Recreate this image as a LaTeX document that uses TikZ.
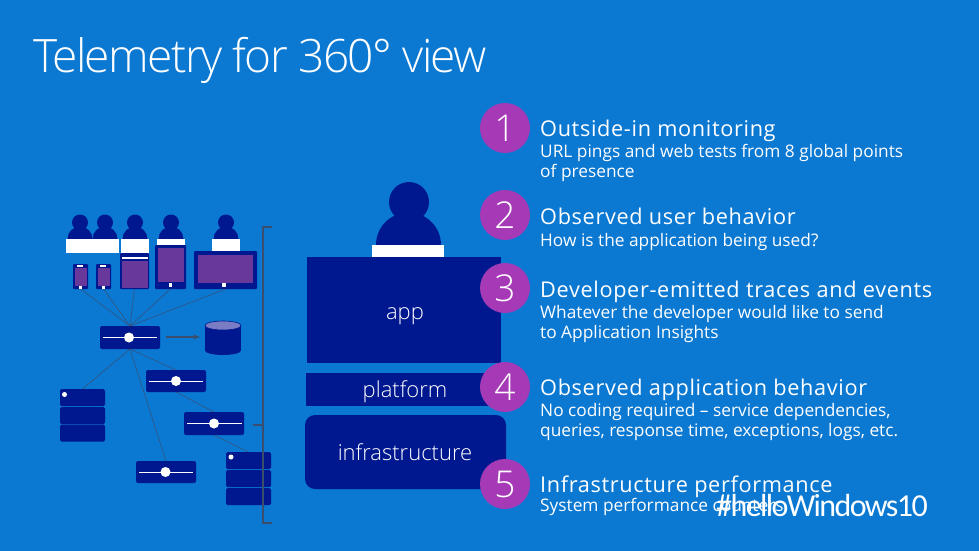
\documentclass[tikz,border=0pt]{standalone}
\usepackage{fontspec}
\setmainfont{Open Sans}
\newfontfamily\headfont[LetterSpace=3]{Open Sans}
\newfontfamily\lightfont{Open Sans Light}
\newfontfamily\titlefont[LetterSpace=-3.5]{Open Sans Light}
\newfontfamily\tagfont[LetterSpace=-5]{Carlito}
\usetikzlibrary{arrows.meta,shapes.geometric}
\definecolor{slidebg}{HTML}{0B78D2}
\definecolor{navy}{HTML}{00188F}
\definecolor{plum}{HTML}{68389A}
\definecolor{orchid}{HTML}{A63AB6}
\definecolor{wire}{HTML}{3A4F70}
\definecolor{lid}{HTML}{7A7CC4}
\tikzset{
  block/.style={fill=navy, inner sep=0pt, outer sep=0pt},
  blocktext/.style={anchor=base, inner sep=0pt, text=white, font=\lightfont\fontsize{22}{26}\selectfont},
  badge/.style={circle, fill=orchid, minimum size=50pt, inner sep=0pt, text=white, font=\lightfont\fontsize{37}{40}\selectfont},
  heading/.style={anchor=base west, inner sep=0pt, text=white, font=\headfont\fontsize{21.7}{24}\selectfont},
  detail/.style={anchor=base west, inner sep=0pt, align=left, text=white, font=\fontsize{17.3}{19.6}\selectfont},
  gateway/.style={fill=navy, rounded corners=2pt, minimum width=60pt, minimum height=23pt, inner sep=0pt, outer sep=0pt},
  slider/.style={circle, fill=white, minimum size=10pt, inner sep=0pt},
  rack/.style={fill=navy, rounded corners=1.5pt, minimum width=45pt, minimum height=17pt, inner sep=0pt, outer sep=0pt},
  purple/.style={fill=plum, inner sep=0pt, outer sep=0pt},
  shell/.style={fill=navy, rounded corners=1pt, inner sep=0pt, outer sep=0pt},
  paper/.style={fill=white, inner sep=0pt, outer sep=0pt},
  link/.style={draw=wire, line width=0.5pt},
  flow/.style={-{Stealth[length=7pt]}, draw=wire, line width=1.6pt},
  frame/.style={draw=wire, line width=1.6pt},
  pics/person/.style={code={
    \fill[navy] (0,-16.5) circle (8);
    \fill[navy] (-12.5,0) arc[start angle=180, end angle=360, radius=12.5] -- cycle;
  }}
}
\begin{document}
\begin{tikzpicture}[x=1pt,y=-1pt]
  \useasboundingbox[fill=slidebg] (0,0) rectangle (979,551);
  \node[anchor=base west, inner sep=0pt, text=white, font=\titlefont\fontsize{46}{50}\selectfont] (title) at (33,73) {Telemetry for 360° view};

  % viewers
  \pic at (80,239) {person};
  \pic at (105,239) {person};
  \pic at (135,239) {person};
  \pic at (171,239) {person};
  \pic at (226,239) {person};
  \node[paper, minimum width=53pt, minimum height=14pt] (bar1) at (92.5,246) {};
  \node[paper, minimum width=28pt, minimum height=14pt] (bar2) at (135,246) {};
  \node[paper, minimum width=28pt, minimum height=6pt] (bar3) at (171,242) {};
  \node[paper, minimum width=28pt, minimum height=12pt] (bar4) at (226,245) {};

  % devices
  \node[shell, minimum width=15pt, minimum height=25pt] (phonea) at (80.5,276.5) {};
  \node[purple, minimum width=12pt, minimum height=18pt] at (80.5,276.5) {};
  \node[paper, minimum width=6pt, minimum height=1.5pt] at (80,266) {};
  \node[paper, minimum width=2.5pt, minimum height=3pt] at (80.5,287) {};
  \node[shell, minimum width=15pt, minimum height=25pt] (phoneb) at (103.5,276.5) {};
  \node[purple, minimum width=12pt, minimum height=18pt] at (103.5,276.5) {};
  \node[paper, minimum width=6pt, minimum height=1.5pt] at (103,266) {};
  \node[paper, minimum width=2.5pt, minimum height=3pt] at (103.5,287) {};
  \node[shell, minimum width=29pt, minimum height=36pt] (phablet) at (134.5,271) {};
  \node[purple, minimum width=26pt, minimum height=27pt] at (134.5,274.5) {};
  \node[paper, minimum width=26pt, minimum height=2pt] at (134.5,258) {};
  \node[shell, minimum width=31pt, minimum height=44pt] (tablet) at (170.5,267) {};
  \node[purple, minimum width=26pt, minimum height=34pt] at (170.5,265) {};
  \node[paper, minimum width=3pt, minimum height=3.5pt] at (170.5,285) {};
  \node[shell, minimum width=63pt, minimum height=38pt] (screen) at (225.5,270) {};
  \node[purple, minimum width=55pt, minimum height=28pt] at (225.5,269) {};
  \node[paper, minimum width=4pt, minimum height=4pt] at (224,285) {};

  % servers
  \node[gateway] (front) at (130,337.5) {};
  \draw[white, line width=0.8pt] (103,337.5) -- (157,337.5);
  \node[slider] at (129,337.5) {};
  \node[gateway, minimum height=22pt] (web) at (176,381) {};
  \draw[white, line width=0.8pt] (149,381) -- (203,381);
  \node[slider] at (176,381) {};
  \node[gateway] (worker) at (214,423.5) {};
  \draw[white, line width=0.8pt] (187,423.5) -- (242,423.5);
  \node[slider] at (214,423.5) {};
  \node[gateway, minimum height=22pt] (batch) at (166,472) {};
  \draw[white, line width=0.8pt] (139,472) -- (193,472);
  \node[slider] at (165.5,472) {};

  \node[rack] (racka) at (82.5,397.5) {};
  \node[rack] (rackb) at (82.5,415.5) {};
  \node[rack] (rackc) at (82.5,433) {};
  \node[paper, circle, minimum size=5pt] at (64.5,394.5) {};
  \node[rack] (rackd) at (248.5,460.5) {};
  \node[rack] (racke) at (248.5,478.5) {};
  \node[rack] (rackf) at (248.5,496.5) {};
  \node[paper, circle, minimum size=5pt] at (231,457) {};

  \node[ellipse, fill=navy, minimum width=36pt, minimum height=9pt, inner sep=0pt] (storebase) at (223,350.5) {};
  \node[block, minimum width=36pt, minimum height=25pt] (store) at (223,338) {};
  \node[ellipse, fill=lid, draw=navy, line width=0.6pt, minimum width=36pt, minimum height=9pt, inner sep=0pt] (storelid) at (223,325.5) {};

  \draw[link] (phonea.south) -- (front.north);
  \draw[link] (phoneb.south) -- (front.north);
  \draw[link] (phablet.south) -- (front.north);
  \draw[link] (tablet.south) -- (front.north);
  \draw[link] (screen.south) -- (front.north);
  \draw[link] (front.south) -- (racka.north);
  \draw[link] (front.south) -- (batch.north);
  \draw[link] (front.south) -- (web.north);
  \draw[link] (web.south) -- (worker.north);
  \draw[link] (worker.south) -- (rackd.north);
  \draw[flow, shorten <=6pt, shorten >=5pt] (front.east |- 0,337) -- (store.west |- 0,337);

  % bracket
  \coordinate (top) at (272,227);
  \coordinate (bottom) at (272,523);
  \coordinate (stub) at (253,425);
  \coordinate (joint) at (262.7,425);
  \draw[frame] (top) -- (262.7,227) -- (262.7,523) -- (bottom);
  \draw[frame] (stub) -- (joint);

  % stack
  \fill[navy] (409,202) circle (20);
  \fill[navy] (376,245) arc[start angle=180, end angle=360, radius=32.5] -- cycle;
  \node[paper, minimum width=72pt, minimum height=12pt] (desk) at (408,251) {};
  \node[block, minimum width=194pt, minimum height=106pt] (app) at (404,310) {};
  \node[block, minimum width=194pt, minimum height=33pt] (platform) at (403,389.5) {};
  \node[block, minimum width=201pt, minimum height=74pt, rounded corners=10pt] (infra) at (405.5,452) {};
  \node[blocktext] (applabel) at (405,319.5) {app};
  \node[blocktext] (platformlabel) at (405,397.5) {platform};
  \node[blocktext] (infralabel) at (405,460.5) {infrastructure};

  \node[badge] (one) at (505,128) {1};
  \node[badge] (two) at (505,215) {2};
  \node[badge] (three) at (505,288) {3};
  \node[badge] (four) at (505,387) {4};
  \node[badge] (five) at (505,484) {5};

  % captions
  \node[heading] (heada) at (540,136) {Outside-in monitoring};
  \node[detail] (texta) at (540,177) {URL pings and web tests from 8 global points\\of presence};
  \node[heading] (headb) at (540,224) {Observed user behavior};
  \node[detail] (textb) at (540,246) {How is the application being used?};
  \node[heading] (headc) at (540,297) {Developer-emitted traces and events};
  \node[detail] (textc) at (540,338) {Whatever the developer would like to send\\to Application Insights};
  \node[heading] (headd) at (540,395) {Observed application behavior};
  \node[detail] (textd) at (540,436) {No coding required – service dependencies,\\queries, response time, exceptions, logs, etc.};
  \node[heading] (heade) at (540,492) {Infrastructure performance};
  \node[detail] (texte) at (540,511) {System performance counters};
  \node[anchor=base west, inner sep=0pt, text=white, font=\tagfont\fontsize{32}{36}\selectfont] (tag) at (716,516) {\#helloWindows10};
\end{tikzpicture}
\end{document}
